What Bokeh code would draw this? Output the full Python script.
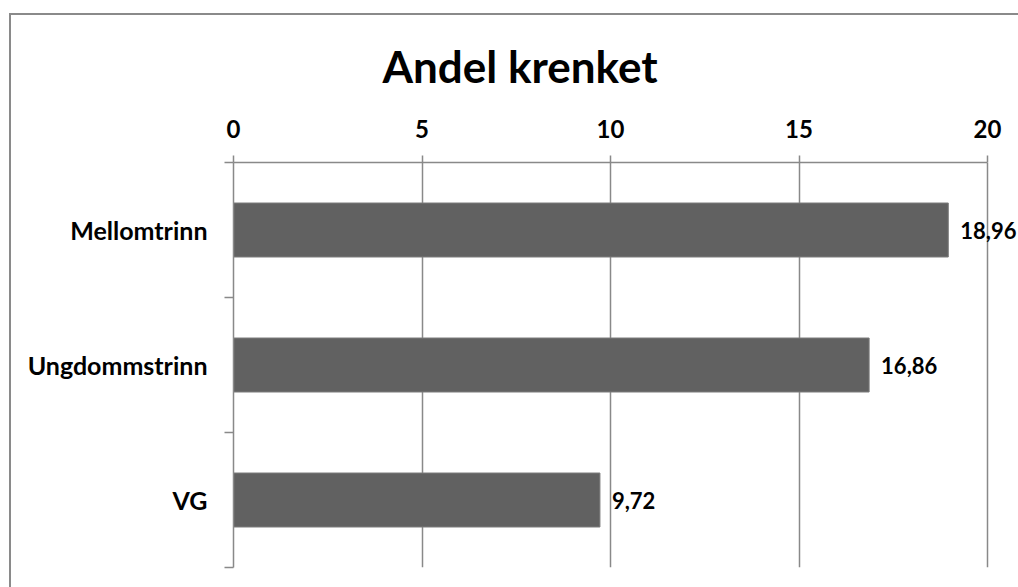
from bokeh.plotting import figure
from bokeh.models import (Range1d, LinearAxis, FixedTicker, ColumnDataSource,
                          LabelSet, Grid)
from bokeh.core.properties import value
from bokeh.embed import file_html
from bokeh.resources import INLINE

# Data
categories = ["Mellomtrinn", "Ungdommstrinn", "VG"]
values = [18.96, 16.86, 9.72]
x_ticks = [0, 5, 10, 15, 20]

FONT = "Lato"
GRAY = "#898989"
BAR = "#616161"

n = len(categories)
ypos = [n - i - 0.5 for i in range(n)]
labels = [f"{v:.2f}".replace(".", ",") for v in values]

src = ColumnDataSource(dict(cat=categories, val=values, y=ypos, lab=labels))

# The frame runs to the right edge so the value labels are not clipped;
# the value axis itself stops at 20.
x_end = 20 * (1018 - 233) / (987 - 233)

p = figure(width=1018, height=587,
           x_range=Range1d(0, x_end), y_range=Range1d(0, n),
           x_axis_location=None, y_axis_location=None,
           output_backend="svg", toolbar_location=None,
           min_border_left=233, min_border_right=0,
           min_border_top=162, min_border_bottom=20)
p.grid.visible = False
p.outline_line_color = None
p.background_fill_color = "white"
p.border_fill_color = None

# Chart-area border drawn behind the canvas
p.styles = {
    "background-color": "white",
    "background-image": "linear-gradient(#8a8a8a, #8a8a8a), linear-gradient(#8a8a8a, #8a8a8a)",
    "background-size": "2px 100%, 100% 2px",
    "background-position": "9px 13px, 9px 13px",
    "background-repeat": "no-repeat",
}

# Title
p.title.text = "Andel krenket"
p.title.text_font = FONT
p.title.text_font_style = "bold"
p.title.text_font_size = "44px"
p.title.text_color = "black"
p.title.align = "left"
p.title.offset = 149
p.title.standoff = 50

# Value axis on top
xax = LinearAxis(ticker=FixedTicker(ticks=x_ticks), bounds=(0, 20),
                 major_tick_out=7, major_tick_in=0,
                 minor_tick_out=0, minor_tick_in=0,
                 axis_line_color=GRAY, axis_line_width=1.5,
                 major_tick_line_color=GRAY, major_tick_line_width=1.5,
                 major_label_standoff=18,
                 major_label_text_font=FONT,
                 major_label_text_font_style="bold",
                 major_label_text_font_size="24px",
                 major_label_text_color="black")
p.add_layout(xax, "above")

# Vertical gridlines
p.add_layout(Grid(dimension=0, ticker=FixedTicker(ticks=x_ticks),
                  grid_line_color=GRAY, grid_line_width=1.5))

# Category axis: labels at band centres, tick marks at band edges
yax = LinearAxis(ticker=FixedTicker(ticks=ypos, minor_ticks=list(range(n + 1))),
                 major_tick_out=0, major_tick_in=0,
                 minor_tick_out=9, minor_tick_in=0,
                 minor_tick_line_color=GRAY, minor_tick_line_width=1.5,
                 axis_line_color=GRAY, axis_line_width=1.5,
                 major_label_overrides={y: c for y, c in zip(ypos, categories)},
                 major_label_standoff=17,
                 major_label_text_font=FONT,
                 major_label_text_font_style="bold",
                 major_label_text_font_size="25px",
                 major_label_text_color="black")
p.add_layout(yax, "left")

# Bars
p.hbar(y="y", left=0, right="val", height=0.4, source=src,
       fill_color=BAR, line_color="#7d7d7d", line_width=1)

# Value labels
p.add_layout(LabelSet(x="val", y="y", text="lab", source=src,
                      x_offset=12, text_baseline="middle",
                      text_font=value(FONT), text_font_style="bold",
                      text_font_size="22px", text_color="black"))

open("out.html", "w").write(file_html(p, INLINE))
